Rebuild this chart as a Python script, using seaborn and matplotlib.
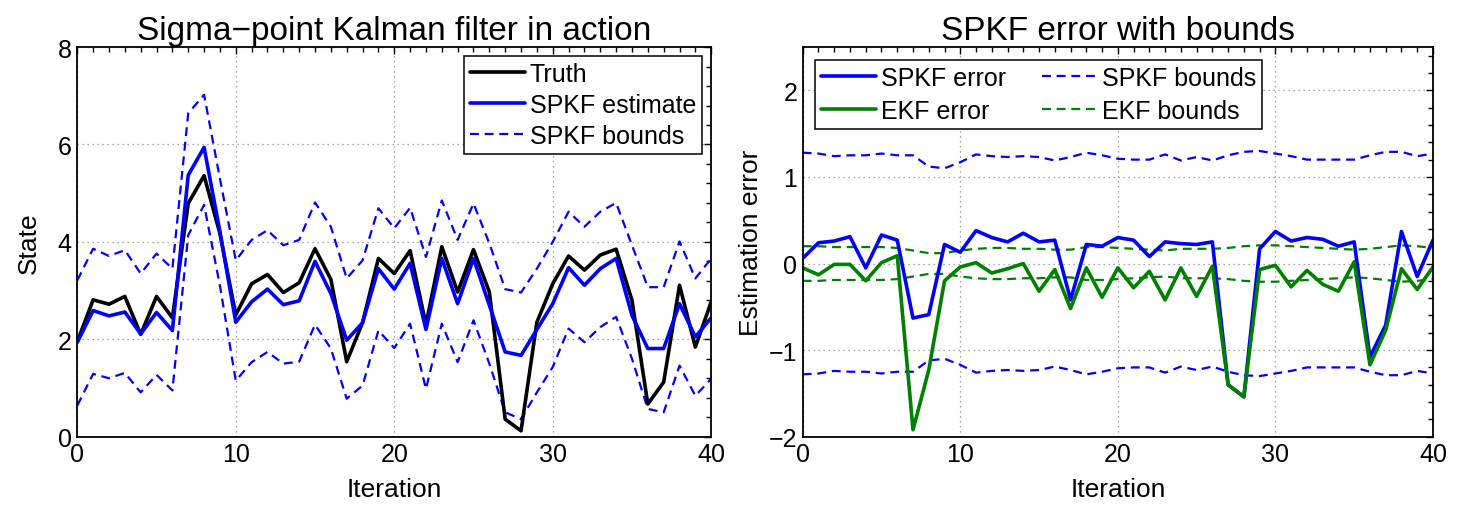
import numpy as np
import matplotlib
matplotlib.use("Agg")
import matplotlib.pyplot as plt
from matplotlib.ticker import MultipleLocator
import seaborn as sns

# ---- data ----
iters = list(range(41))

truth = [1.95, 2.81, 2.72, 2.88, 2.10, 2.88, 2.44, 4.79, 5.36, 4.17,
         2.50, 3.14, 3.33, 2.96, 3.16, 3.86, 3.23, 1.54, 2.34, 3.66,
         3.35, 3.82, 2.30, 3.90, 2.97, 3.84, 2.97, 0.36, 0.12, 2.35,
         3.14, 3.71, 3.42, 3.73, 3.85, 2.80, 0.67, 1.12, 3.11, 1.84, 2.77]
spkf_est = [1.94, 2.59, 2.48, 2.56, 2.11, 2.55, 2.18, 5.37, 5.94, 4.21,
            2.35, 2.77, 3.03, 2.71, 2.79, 3.60, 2.94, 1.98, 2.34, 3.45,
            3.03, 3.56, 2.20, 3.66, 2.73, 3.66, 2.70, 1.74, 1.67, 2.20,
            2.73, 3.47, 3.11, 3.45, 3.66, 2.49, 1.81, 1.81, 2.73, 2.05, 2.44]
spkf_upper = [3.21, 3.86, 3.71, 3.83, 3.35, 3.76, 3.45, 6.64, 7.02, 5.30,
              3.62, 4.04, 4.24, 3.93, 4.04, 4.81, 4.31, 3.25, 3.62, 4.69,
              4.28, 4.70, 3.69, 4.85, 4.04, 4.79, 3.97, 3.03, 2.96, 3.45,
              4.00, 4.62, 4.31, 4.62, 4.80, 3.93, 3.07, 3.07, 4.01, 3.25, 3.66]
spkf_lower = [0.64, 1.29, 1.20, 1.31, 0.91, 1.27, 0.95, 4.14, 4.76, 3.10,
              1.15, 1.53, 1.74, 1.50, 1.54, 2.30, 1.81, 0.78, 1.05, 2.18,
              1.82, 2.32, 0.98, 2.32, 1.53, 2.39, 1.50, 0.50, 0.36, 0.91,
              1.43, 2.22, 1.94, 2.25, 2.46, 1.60, 0.57, 0.50, 1.46, 0.84, 1.19]

spkf_err = [0.06, 0.24, 0.26, 0.31, -0.05, 0.33, 0.27, -0.63, -0.59, 0.22,
            0.13, 0.38, 0.30, 0.25, 0.35, 0.25, 0.27, -0.42, 0.22, 0.20,
            0.30, 0.27, 0.08, 0.25, 0.23, 0.22, 0.25, -1.40, -1.54, 0.17,
            0.37, 0.26, 0.30, 0.28, 0.20, 0.25, -1.08, -0.71, 0.37, -0.15, 0.27]
ekf_err = [-0.05, -0.13, -0.01, -0.01, -0.20, 0.01, 0.09, -1.92, -1.23, -0.20,
           -0.04, 0.01, -0.11, -0.06, 0.00, -0.32, -0.07, -0.52, -0.05, -0.39,
           -0.05, -0.28, -0.09, -0.42, -0.05, -0.38, -0.03, -1.40, -1.54, -0.07,
           -0.02, -0.27, -0.08, -0.24, -0.32, 0.02, -1.17, -0.77, -0.06, -0.30, -0.04]
spkf_bnd = [1.28, 1.27, 1.24, 1.25, 1.25, 1.27, 1.25, 1.25, 1.12, 1.10,
            1.17, 1.26, 1.24, 1.23, 1.24, 1.23, 1.19, 1.23, 1.28, 1.25,
            1.21, 1.20, 1.20, 1.26, 1.19, 1.23, 1.19, 1.25, 1.29, 1.30,
            1.27, 1.24, 1.20, 1.20, 1.20, 1.20, 1.25, 1.29, 1.29, 1.24, 1.27]
ekf_bnd = [0.20, 0.20, 0.19, 0.19, 0.19, 0.19, 0.18, 0.15, 0.12, 0.12,
           0.15, 0.17, 0.18, 0.18, 0.17, 0.17, 0.16, 0.16, 0.19, 0.19,
           0.18, 0.17, 0.16, 0.15, 0.17, 0.17, 0.17, 0.18, 0.20, 0.21,
           0.21, 0.20, 0.19, 0.18, 0.17, 0.16, 0.17, 0.19, 0.21, 0.20, 0.18]

sns.set_style("white")
plt.rcParams['font.family'] = ['Liberation Sans', 'DejaVu Sans']
plt.rcParams['text.color'] = 'k'
plt.rcParams['axes.labelcolor'] = 'k'
plt.rcParams['xtick.color'] = 'k'
plt.rcParams['ytick.color'] = 'k'

BLUE = (0, 0, 1)
GREEN = (0, 0.5, 0)
dash = (4, 2.6)

fig = plt.figure(figsize=(14.64, 5.06), dpi=100)
ax1 = fig.add_axes([0.0528, 0.135, 0.433, 0.770])
ax2 = fig.add_axes([0.5483, 0.135, 0.4305, 0.770])

# ---- left: state estimate ----
sns.lineplot(x=iters, y=spkf_upper, ax=ax1, color=BLUE, lw=1.6,
             linestyle=(0, dash), label='SPKF bounds')
sns.lineplot(x=iters, y=spkf_lower, ax=ax1, color=BLUE, lw=1.6,
             linestyle=(0, dash), label='_nolegend_')
sns.lineplot(x=iters, y=truth, ax=ax1, color='k', lw=2.6, label='Truth')
sns.lineplot(x=iters, y=spkf_est, ax=ax1, color=BLUE, lw=2.6, label='SPKF estimate')

h = {l.get_label(): l for l in ax1.get_lines()}
ax1.legend([h['Truth'], h['SPKF estimate'], h['SPKF bounds']],
           ['Truth', 'SPKF estimate', 'SPKF bounds'],
           loc='upper right', fontsize=18, fancybox=False, framealpha=1,
           edgecolor='k', handlelength=2.2, handletextpad=0.2,
           borderpad=0.25, labelspacing=0.27, borderaxespad=0.35)
ax1.get_legend().get_frame().set_linewidth(1.1)

ax1.set_xlim(0, 40)
ax1.set_ylim(0, 8)
ax1.xaxis.set_major_locator(MultipleLocator(10))
ax1.xaxis.set_minor_locator(MultipleLocator(1))
ax1.yaxis.set_major_locator(MultipleLocator(2))
ax1.yaxis.set_minor_locator(MultipleLocator(0.4))
ax1.set_title('Sigma\u2212point Kalman filter in action', fontsize=24, pad=6)
ax1.set_xlabel('Iteration', fontsize=19, labelpad=8)
ax1.set_ylabel('State', fontsize=19, labelpad=12)

# ---- right: errors with bounds ----
neg_spkf = [-b for b in spkf_bnd]
neg_ekf = [-b for b in ekf_bnd]
sns.lineplot(x=iters, y=spkf_bnd, ax=ax2, color=BLUE, lw=1.6,
             linestyle=(0, dash), label='SPKF bounds')
sns.lineplot(x=iters, y=neg_spkf, ax=ax2, color=BLUE, lw=1.6,
             linestyle=(0, dash), label='_nolegend_')
sns.lineplot(x=iters, y=ekf_bnd, ax=ax2, color=GREEN, lw=1.6,
             linestyle=(0, dash), label='EKF bounds')
sns.lineplot(x=iters, y=neg_ekf, ax=ax2, color=GREEN, lw=1.6,
             linestyle=(0, dash), label='_nolegend_')
sns.lineplot(x=iters, y=spkf_err, ax=ax2, color=BLUE, lw=2.6, label='SPKF error')
sns.lineplot(x=iters, y=ekf_err, ax=ax2, color=GREEN, lw=2.6, label='EKF error')

h = {l.get_label(): l for l in ax2.get_lines()}
order = ['SPKF error', 'EKF error', 'SPKF bounds', 'EKF bounds']
ax2.legend([h[k] for k in order], order, ncol=2, loc='upper left',
           fontsize=18, fancybox=False, framealpha=1, edgecolor='k',
           handlelength=2.2, handletextpad=0.2, borderpad=0.25,
           labelspacing=0.35, columnspacing=1.4, borderaxespad=0.5)
ax2.get_legend().get_frame().set_linewidth(1.1)

ax2.set_xlim(0, 40)
ax2.set_ylim(-2, 2.5)
ax2.xaxis.set_major_locator(MultipleLocator(10))
ax2.xaxis.set_minor_locator(MultipleLocator(1))
ax2.yaxis.set_major_locator(MultipleLocator(1))
ax2.yaxis.set_minor_locator(MultipleLocator(0.2))
ax2.set_title('SPKF error with bounds', fontsize=24, pad=6)
ax2.set_xlabel('Iteration', fontsize=19, labelpad=8)
ax2.set_ylabel('Estimation error', fontsize=19, labelpad=4)

for ax in (ax1, ax2):
    ax.grid(True, which='major', linestyle=(0, (1, 3)), color='#8a8a8a', lw=0.9)
    ax.tick_params(which='both', direction='in', top=True, right=True,
                   labelsize=18, width=1.0, color='k', labelcolor='k', pad=4)
    ax.tick_params(which='major', length=5)
    ax.tick_params(which='minor', length=3.5)
    for s in ax.spines.values():
        s.set_color('k')
        s.set_linewidth(1.3)
    ax.set_axisbelow(True)

fig.savefig('out.png', dpi=100)
